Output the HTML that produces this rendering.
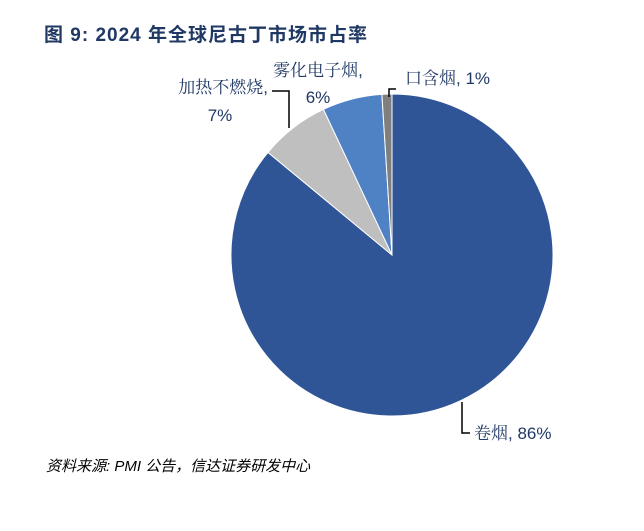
<!DOCTYPE html>
<html><head><meta charset="utf-8">
<style>
body{margin:0;background:#fff;}
#wrap{position:relative;width:644px;height:531px;overflow:hidden;background:#fff;}
.title{position:absolute;left:44px;top:20px;font:bold 19px "Liberation Sans","Noto Sans CJK SC",sans-serif;color:#1f3864;letter-spacing:1px;white-space:nowrap;}
.src{position:absolute;left:46px;top:455px;font:italic 15px "Liberation Sans","Noto Sans CJK SC",sans-serif;color:#000;white-space:nowrap;}
svg text{font-family:"Liberation Sans","Noto Serif CJK SC",serif;font-size:17px;fill:#1f3864;}
</style></head><body>
<div id="wrap">
<div class="title">图 9:&nbsp;2024 年全球尼古丁市场市占率</div>
<svg id="chart" width="644" height="531" style="position:absolute;left:0;top:0">
<g id="slices"></g>
<g id="labels">
<path d="M272,91 H289 V128" stroke="#000" stroke-width="1.5" fill="none"/>
<path d="M396,89 H389 V97" stroke="#000" stroke-width="1.5" fill="none"/>
<path d="M462,402 V433 H470" stroke="#000" stroke-width="1.5" fill="none"/>
<text x="268" y="93" text-anchor="end">加热不燃烧,</text>
<text x="220" y="121" text-anchor="middle">7%</text>
<text x="318" y="76" text-anchor="middle">雾化电子烟,</text>
<text x="318" y="103" text-anchor="middle">6%</text>
<text x="405" y="84">口含烟, 1%</text>
<text x="474" y="439">卷烟, 86%</text>
</g>
</svg>
<div class="src">资料来源: PMI 公告，信达证券研发中心</div>
</div>
<script>
const categories=["卷烟","加热不燃烧","雾化电子烟","口含烟"];
const values=[86,7,6,1];
const colors=["#2f5597","#bfbfbf","#4f81c5","#7f7f7f"];
const cx=392,cy=255,r=161;
const g=document.getElementById('slices');
const total=values.reduce((a,b)=>a+b,0);
let a0=0;
function pt(a){return [cx+r*Math.sin(a),cy-r*Math.cos(a)];}
values.forEach((v,i)=>{
  const a1=a0+v/total*2*Math.PI;
  const p0=pt(a0),p1=pt(a1);
  const large=(a1-a0)>Math.PI?1:0;
  const p=document.createElementNS('http://www.w3.org/2000/svg','path');
  p.setAttribute('d',`M${cx},${cy} L${p0[0]},${p0[1]} A${r},${r} 0 ${large} 1 ${p1[0]},${p1[1]} Z`);
  p.setAttribute('fill',colors[i]);
  p.setAttribute('stroke','#fff');
  p.setAttribute('stroke-width','1');
  
  
  g.appendChild(p);
  a0=a1;
});
</script>
</body></html>
